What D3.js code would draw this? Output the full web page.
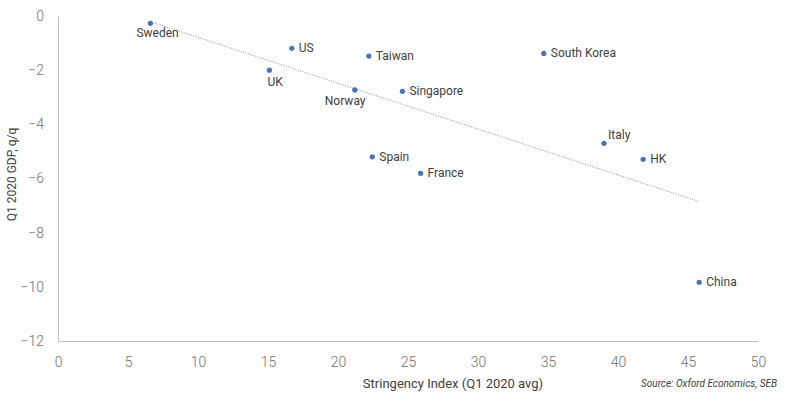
<!DOCTYPE html>
<html>
<head>
<meta charset="utf-8">
<script src="https://cdn.jsdelivr.net/npm/d3@7"></script>
<style>
    body { margin: 0; background: #fff; }
    #chart-area { width: 796px; height: 399px; }
    text { font-family: Roboto, "Noto Sans", sans-serif; }
</style>
</head>
<body>
<div id="chart-area"></div>
<script>

// data
let countries  = ["Sweden", "US", "UK", "Taiwan", "Norway", "Singapore", "Spain", "France", "South Korea", "Italy", "HK", "China"];
let stringency = [6.6, 16.7, 15.1, 22.2, 21.2, 24.6, 22.45, 25.9, 34.7, 39.0, 41.8, 45.8];
let gdpChange  = [-0.27, -1.19, -2.0, -1.48, -2.73, -2.78, -5.2, -5.81, -1.38, -4.7, -5.29, -9.83];

let xTicks = [0, 5, 10, 15, 20, 25, 30, 35, 40, 45, 50];
let yTicks = [0, -2, -4, -6, -8, -10, -12];

// label offsets from the dot (default: to the right)
let labelOffset = {
    "Sweden": [-14, 14],
    "UK": [-2, 16],
    "Norway": [-30, 15],
    "Italy": [4, -4]
};


class ScatterVis {

    constructor(parentElement) {
        this.parentElement = parentElement;
        this.data = countries.map((c, i) => ({name: c, x: stringency[i], y: gdpChange[i]}));
        this.initVis();
    }

    initVis() {
        let vis = this;

        vis.margin = {top: 16, right: 38, bottom: 58, left: 58};
        vis.width = 796 - vis.margin.left - vis.margin.right;
        vis.height = 399 - vis.margin.top - vis.margin.bottom;

        vis.svg = d3.select("#" + vis.parentElement).append("svg")
            .attr("width", vis.width + vis.margin.left + vis.margin.right)
            .attr("height", vis.height + vis.margin.top + vis.margin.bottom)
            .append("g")
            .attr("transform", "translate(" + vis.margin.left + "," + vis.margin.top + ")");

        vis.x = d3.scaleLinear().domain([0, 50]).range([0, vis.width]);
        vis.y = d3.scaleLinear().domain([-12, 0]).range([vis.height, 0]);

        // axes
        vis.xAxis = vis.svg.append("g")
            .attr("class", "axis axis--x")
            .attr("transform", "translate(0," + vis.height + ")")
            .call(d3.axisBottom(vis.x).tickValues(xTicks).tickSize(0).tickPadding(16));

        vis.yAxis = vis.svg.append("g")
            .attr("class", "axis axis--y")
            .call(d3.axisLeft(vis.y).tickValues(yTicks).tickSize(0).tickPadding(14));

        vis.svg.selectAll(".axis .domain").attr("stroke", "#bfbfbf").attr("stroke-width", 1);
        vis.svg.selectAll(".axis text")
            .attr("fill", "#707070")
            .style("font-size", "14px")
            .style("font-family", "Roboto, sans-serif")
            .style("font-weight", 300);

        // axis titles
        vis.svg.append("text")
            .attr("x", 395)
            .attr("y", vis.height + 47)
            .attr("text-anchor", "middle")
            .attr("fill", "#404040")
            .style("font-size", "13px")
            .text("Stringency Index (Q1 2020 avg)");

        vis.svg.append("text")
            .attr("transform", "translate(-42," + (vis.height / 2 - 4) + ") rotate(-90)")
            .attr("text-anchor", "middle")
            .attr("fill", "#404040")
            .style("font-size", "12px")
            .text("Q1 2020 GDP, q/q");

        vis.svg.append("text")
            .attr("x", vis.width + 19)
            .attr("y", vis.height + 46)
            .attr("text-anchor", "end")
            .attr("fill", "#404040")
            .style("font-size", "10px")
            .style("font-style", "italic")
            .text("Source: Oxford Economics, SEB");

        vis.updateVis();
    }

    updateVis() {
        let vis = this;

        // linear trend line over the data range
        let mx = d3.mean(vis.data, d => d.x);
        let my = d3.mean(vis.data, d => d.y);
        let slope = d3.sum(vis.data, d => (d.x - mx) * (d.y - my)) / d3.sum(vis.data, d => (d.x - mx) ** 2);
        let intercept = my - slope * mx;
        let ext = d3.extent(vis.data, d => d.x);
        let trend = ext.map(v => ({x: v, y: intercept + slope * v}));

        vis.svg.append("path")
            .datum(trend)
            .attr("d", d3.line().x(d => vis.x(d.x)).y(d => vis.y(d.y)))
            .attr("fill", "none")
            .attr("stroke", "#707070")
            .attr("stroke-width", 0.8)
            .attr("stroke-dasharray", "1,1.5");

        // dots
        vis.svg.selectAll(".dot")
            .data(vis.data)
            .enter().append("circle")
            .attr("class", "dot")
            .attr("cx", d => vis.x(d.x))
            .attr("cy", d => vis.y(d.y))
            .attr("r", 2.6)
            .attr("fill", "#4472c4");

        // labels
        vis.svg.selectAll(".label")
            .data(vis.data)
            .enter().append("text")
            .attr("class", "label")
            .attr("fill", "#404040")
            .style("font-size", "12px")
            .attr("x", d => vis.x(d.x) + (labelOffset[d.name] ? labelOffset[d.name][0] : 7))
            .attr("y", d => vis.y(d.y) + (labelOffset[d.name] ? labelOffset[d.name][1] : 4))
            .text(d => d.name);
    }
}

let myScatterVis = new ScatterVis("chart-area");

</script>
</body>
</html>
